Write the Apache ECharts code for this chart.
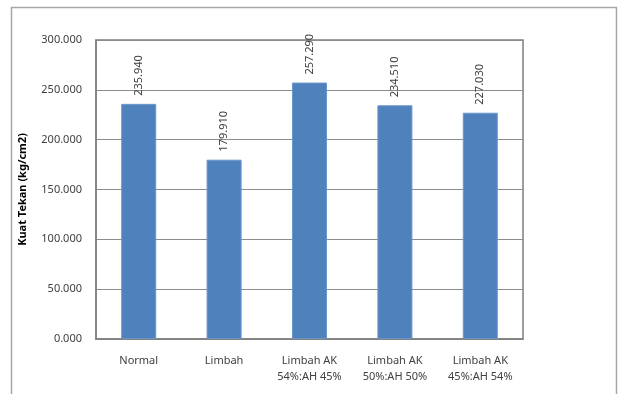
<!DOCTYPE html>
<html>
<head>
<meta charset="utf-8">
<script src="https://cdn.jsdelivr.net/npm/echarts@6/dist/echarts.min.js"></script>
<style>
  html, body { margin: 0; padding: 0; background: #fff; }
  #chart { width: 621px; height: 394px; }
</style>
</head>
<body>
<div id="chart"></div>
<script>
// Compressive strength per mix
const categories = ['Normal', 'Limbah', 'Limbah AK\n54%:AH 45%', 'Limbah AK\n50%:AH 50%', 'Limbah AK\n45%:AH 54%'];
const kuatTekan = [235.94, 179.91, 257.29, 234.51, 227.03];
const yTicks = { min: 0, max: 300, interval: 50 };

const FONT = '"Noto Sans", "Open Sans", sans-serif';
const fmt3 = v => Number(v).toFixed(3);

const chart = echarts.init(document.getElementById('chart'), null, { renderer: 'canvas' });
chart.setOption({
  animation: false,
  backgroundColor: '#ffffff',
  textStyle: { fontFamily: FONT },
  grid: { left: 96, right: 98, top: 40, bottom: 55, show: true, borderColor: '#7f7f7f', borderWidth: 1.5 },
  graphic: [{
    type: 'rect',
    shape: { x: 11.5, y: 7.5, width: 605, height: 400 },
    style: { fill: 'none', stroke: '#a6a6a6', lineWidth: 1.5 },
    silent: true, z: -1
  }],
  xAxis: {
    type: 'category',
    data: categories,
    axisLine: { show: true, lineStyle: { color: '#7f7f7f', width: 1.5 } },
    axisTick: { show: false },
    axisLabel: { color: '#404040', fontSize: 11, margin: 14, lineHeight: 16, fontFamily: FONT }
  },
  yAxis: {
    type: 'value',
    min: yTicks.min, max: yTicks.max, interval: yTicks.interval,
    name: 'Kuat Tekan (kg/cm2)',
    nameLocation: 'middle',
    nameGap: 68,
    nameTextStyle: { color: '#000', fontSize: 11, fontWeight: 'bold', fontFamily: FONT },
    axisLine: { show: true, lineStyle: { color: '#7f7f7f', width: 1.5 } },
    axisTick: { show: false },
    axisLabel: { color: '#404040', fontSize: 11, margin: 14, formatter: fmt3, fontFamily: FONT },
    splitLine: { show: true, lineStyle: { color: '#8c8c8c', width: 1 } }
  },
  series: [{
    type: 'bar',
    data: kuatTekan,
    barWidth: '41%',
    itemStyle: { color: '#4f81bd', borderColor: '#6a96cc', borderWidth: 1 },
    label: {
      show: true,
      position: 'top',
      rotate: 90,
      align: 'left',
      verticalAlign: 'middle',
      distance: 8,
      color: '#404040',
      fontSize: 11,
      fontFamily: FONT,
      formatter: p => fmt3(p.value)
    }
  }]
});
</script>
</body>
</html>
